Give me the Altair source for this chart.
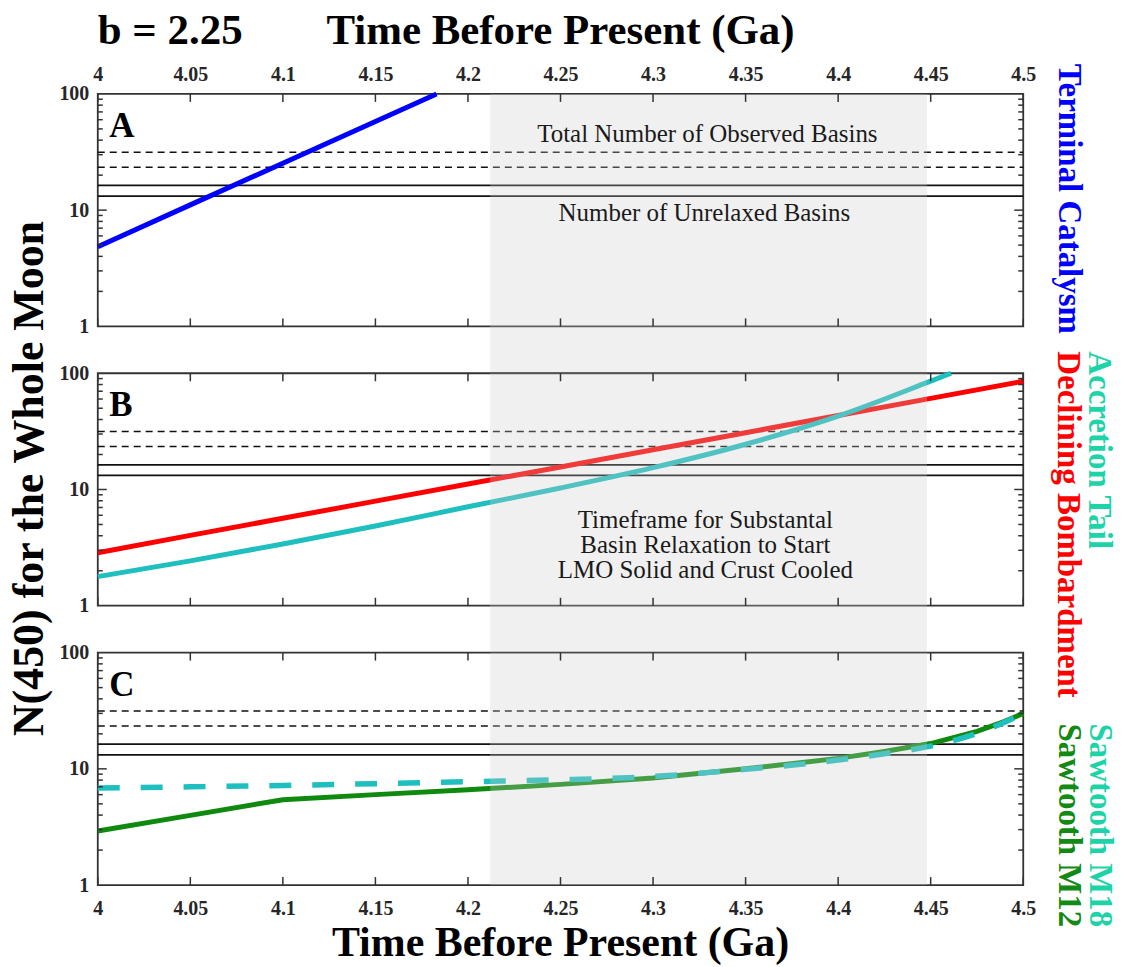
import altair as alt
import pandas as pd

# ---- model curves: N(450) for the whole Moon vs time before present (Ga) ----
tc_time = [4.0, 4.05, 4.1, 4.15, 4.183]
tc_n = [4.85, 11.1, 25.3, 58.0, 100.0]

db_time = [4.0, 4.05, 4.1, 4.15, 4.2, 4.25, 4.3, 4.35, 4.4, 4.45, 4.5]
db_n = [2.86, 4.03, 5.65, 7.94, 11.15, 15.6, 22.0, 30.8, 43.3, 60.8, 85.4]

at_time = [4.0, 4.05, 4.1, 4.15, 4.2, 4.25, 4.3, 4.35, 4.4, 4.45, 4.461]
at_n = [1.78, 2.43, 3.40, 4.85, 7.10, 10.3, 15.4, 24.5, 42.8, 85.5, 100.0]

m12_time = [4.0, 4.05, 4.1, 4.15, 4.2, 4.25, 4.3, 4.35, 4.4, 4.425, 4.45, 4.475, 4.49, 4.5]
m12_n = [2.92, 3.98, 5.43, 6.0, 6.6, 7.35, 8.35, 10.0, 12.3, 14.1, 16.5, 21.0, 25.6, 30.0]

m18_time = [4.0, 4.05, 4.1, 4.15, 4.2, 4.25, 4.3, 4.35, 4.4, 4.425, 4.45, 4.475, 4.49, 4.5]
m18_n = [6.83, 7.0, 7.2, 7.45, 7.75, 8.05, 8.6, 9.9, 11.9, 13.5, 15.7, 20.2, 25.2, 30.0]

# basin counts (horizontal reference lines)
observed_basins = [31.5, 23.4]
unrelaxed_basins = [16.3, 13.2]

# timeframe for substantial basin relaxation (shaded band)
relax_start = [4.212]
relax_end = [4.448]

# tick positions
x_ticks = [4.0, 4.05, 4.1, 4.15, 4.2, 4.25, 4.3, 4.35, 4.4, 4.45, 4.5]
y_labels = [1, 10, 100]
y_major = [10]
y_minor = [2, 3, 4, 5, 6, 7, 8, 9, 20, 30, 40, 50, 60, 70, 80, 90]

# ---- layout ----
W, H, GAP = 927.6, 233, 47
X0, Y0 = 96.7, 92          # page position of the top panel's plot origin
PAGE_W, PAGE_H = 1125, 967
FONT = "Liberation Serif"

xscale = alt.Scale(domain=[4.0, 4.5], nice=False, zero=False)
yscale = alt.Scale(type="log", domain=[1, 100], nice=False)

one = pd.DataFrame({"k": [0]})


def x_axis(orient):
    if orient is None:
        return None
    return alt.Axis(orient=orient, values=x_ticks, format="~g", ticks=False, tickSize=0,
                    domain=False, grid=False, labelFlush=False, labelOverlap=False,
                    labelFont=FONT, labelFontWeight="bold", labelFontSize=20,
                    labelColor="#262626", labelBaseline="alphabetic",
                    labelPadding=13 if orient == "top" else 29, title=None)


def X(field, orient):
    return alt.X(f"{field}:Q", scale=xscale, axis=x_axis(orient))


def Y(field):
    return alt.Y(f"{field}:Q", scale=yscale,
                 axis=alt.Axis(values=y_labels, format="~g", ticks=False, tickSize=0,
                               domain=False, grid=False, labelFont=FONT,
                               labelFontWeight="bold", labelFontSize=20,
                               labelColor="#262626", labelPadding=9, title=None))


def text(s, x, y, size, weight="normal", color="black", angle=0, align="center"):
    return alt.Chart(one).mark_text(
        text=s, font=FONT, fontSize=size, fontWeight=weight, color=color,
        angle=angle, align=align, baseline="alphabetic"
    ).encode(x=alt.value(x), y=alt.value(y))


def curve(t, n, color, orient, width=5, dash=None, interp="linear"):
    df = pd.DataFrame({"t": t, "n": n})
    kw = dict(color=color, strokeWidth=width, interpolate=interp, strokeCap="butt")
    if dash:
        kw["strokeDash"] = dash
    return alt.Chart(df).mark_line(**kw).encode(x=X("t", orient), y=Y("n"))


def panel(letter, curves, orient, band_h, extra):
    obs = pd.DataFrame({"n": observed_basins})
    unr = pd.DataFrame({"n": unrelaxed_basins})
    band = pd.DataFrame({"a": relax_start, "b": relax_end})
    xt = pd.DataFrame({"v": x_ticks})
    ymaj = pd.DataFrame({"v": y_major})
    ymin = pd.DataFrame({"v": y_minor})

    layers = [
        alt.Chart(obs).mark_rule(color="#111111", strokeWidth=1.6, strokeDash=[7, 5])
        .encode(y=Y("n"), x=alt.value(0), x2=alt.value(W)),
        alt.Chart(unr).mark_rule(color="#111111", strokeWidth=1.8)
        .encode(y=Y("n"), x=alt.value(0), x2=alt.value(W)),
    ]
    layers += curves
    # translucent shading of the relaxation timeframe
    layers.append(
        alt.Chart(band).mark_rect(fill="#cccccc", opacity=0.29)
        .encode(x=X("a", orient), x2="b:Q", y=alt.value(0), y2=alt.value(band_h))
    )
    # inward tick marks on all four sides
    tick_kw = dict(color="#333333", strokeWidth=1.5)
    layers += [
        alt.Chart(xt).mark_rule(**tick_kw).encode(x=X("v", orient), y=alt.value(0), y2=alt.value(8)),
        alt.Chart(xt).mark_rule(**tick_kw).encode(x=X("v", orient), y=alt.value(H - 8), y2=alt.value(H)),
        alt.Chart(ymaj).mark_rule(**tick_kw).encode(y=Y("v"), x=alt.value(0), x2=alt.value(9)),
        alt.Chart(ymaj).mark_rule(**tick_kw).encode(y=Y("v"), x=alt.value(W - 9), x2=alt.value(W)),
        alt.Chart(ymin).mark_rule(**tick_kw).encode(y=Y("v"), x=alt.value(0), x2=alt.value(5)),
        alt.Chart(ymin).mark_rule(**tick_kw).encode(y=Y("v"), x=alt.value(W - 5), x2=alt.value(W)),
    ]
    layers.append(text(letter, 11.6, 43, 35, weight="bold", align="left"))
    layers += extra
    return alt.layer(*layers).properties(width=W, height=H)


# ---- panel A: terminal cataclysm ----
panel_a = panel(
    "A",
    [curve(tc_time, tc_n, "#0000ff", "top")],
    "top", H + GAP,
    [
        # page frame anchor (top edge)
        alt.Chart(one).mark_rect(fill="white", strokeWidth=0).encode(
            x=alt.value(-X0), x2=alt.value(PAGE_W - X0), y=alt.value(-Y0), y2=alt.value(-Y0 + 1)),
        text("Total Number of Observed Basins", 611, 48.7, 25, color="#1a1a1a"),
        text("Number of Unrelaxed Basins", 608, 127, 25, color="#1a1a1a"),
        text("b = 2.25", 0, -50.5, 43, weight="bold", align="left"),
        text("Time Before Present (Ga)", W / 2, -50.5, 43, weight="bold"),
        text("Terminal Catalysm", 963.3, -30.3, 33, weight="bold", color="#0000ff",
             angle=90, align="left"),
    ],
)

# ---- panel B: declining bombardment and accretion tail ----
panel_b = panel(
    "B",
    [
        curve(db_time, db_n, "#ff0000", None),
        curve(at_time, at_n, "#1fbfbf", None, interp="monotone"),
    ],
    None, H + GAP,
    [
        text("Timeframe for Substantal", 609, 154.7, 25, color="#1a1a1a"),
        text("Basin Relaxation to Start", 609, 180.3, 25, color="#1a1a1a"),
        text("LMO Solid and Crust Cooled", 609, 205.3, 25, color="#1a1a1a"),
        text("N(450) for the Whole Moon", -54.7, 105.5, 44, weight="bold", angle=270),
        text("Declining Bombardment", 962.3, -22, 33, weight="bold", color="#ff0000",
             angle=90, align="left"),
        text("Accretion Tail", 993.3, -22, 33, weight="bold", color="#1fd3a8",
             angle=90, align="left"),
    ],
)

# ---- panel C: sawtooth models ----
panel_c = panel(
    "C",
    [
        curve(m12_time, m12_n, "#0f8a0f", "bottom"),
        curve(m18_time, m18_n, "#1fbfbf", "bottom", width=5.5, dash=[22, 21], interp="monotone"),
    ],
    "bottom", H,
    [
        text("Time Before Present (Ga)", W / 2, 304, 42, weight="bold"),
        text("Sawtooth M12", 963.3, 71, 33, weight="bold", color="#138a13",
             angle=90, align="left"),
        text("Sawtooth M18", 995, 71, 33, weight="bold", color="#1fd3a8",
             angle=90, align="left"),
        # page frame anchor (bottom edge)
        alt.Chart(one).mark_rect(fill="white", strokeWidth=0).encode(
            x=alt.value(-X0), x2=alt.value(PAGE_W - X0),
            y=alt.value(PAGE_H - (Y0 + 2 * (H + GAP)) - 1),
            y2=alt.value(PAGE_H - (Y0 + 2 * (H + GAP)))),
    ],
)

chart = (
    alt.vconcat(panel_a, panel_b, panel_c, spacing=GAP, bounds="flush")
    .properties(padding=0, background="white")
    .configure_view(stroke="#333333", strokeWidth=1.8)
)

chart.save("out.html", embed_options={"renderer": "svg", "actions": False})
